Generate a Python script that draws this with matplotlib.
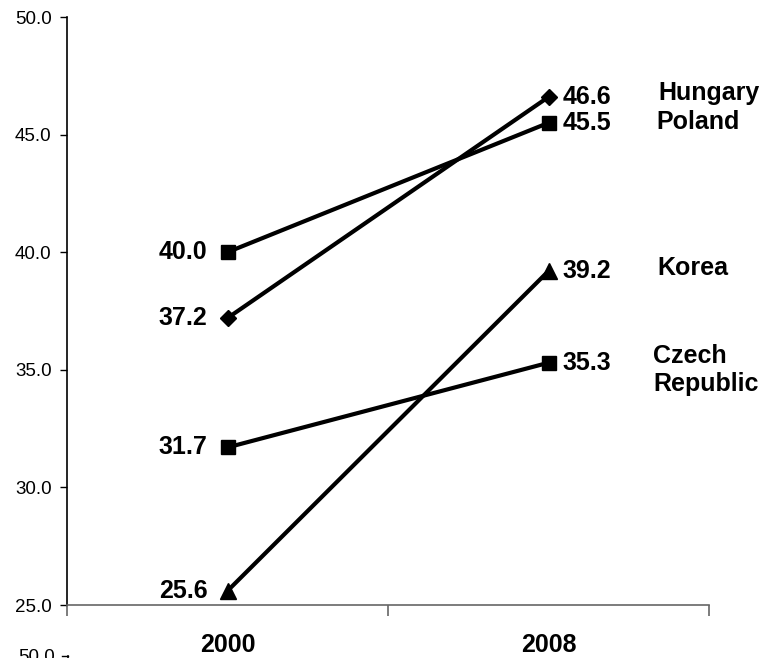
import matplotlib
matplotlib.use("Agg")
import matplotlib.pyplot as plt
from matplotlib.lines import Line2D

plt.rcParams["font.family"] = ["Liberation Sans", "DejaVu Sans"]

years = ["2000", "2008"]
hungary = [37.2, 46.6]
poland = [40.0, 45.5]
korea = [25.6, 39.2]
czech = [31.7, 35.3]

y_ticks = [25.0, 30.0, 35.0, 40.0, 45.0, 50.0]

# (values, marker, marker size)
series = [
    (hungary, "D", 8),
    (poland, "s", 10),
    (korea, "^", 11),
    (czech, "s", 10),
]

# country names to the right of the 2008 points
names = [
    ("Hungary", 1.341, 46.77),
    ("Poland", 1.335, 45.54),
    ("Korea", 1.338, 39.33),
    ("Czech\nRepublic", 1.326, 35.0),
]

W, H = 769, 658
fig = plt.figure(figsize=(W / 100, H / 100), dpi=100)
ax = fig.add_axes([67 / W, (H - 605) / H, (709 - 67) / W, (605 - 17) / H])

x = list(range(len(years)))
for vals, mk, ms in series:
    ax.plot(x, vals, color="black", lw=3.0, marker=mk, ms=ms,
            solid_capstyle="butt", zorder=3)
    ax.annotate(f"{vals[0]:.1f}", (x[0], vals[0]), xytext=(-20, 0),
                textcoords="offset pixels", ha="right", va="center",
                fontsize=18, fontweight="bold")
    ax.annotate(f"{vals[1]:.1f}", (x[1], vals[1]), xytext=(14, 0),
                textcoords="offset pixels", ha="left", va="center",
                fontsize=18, fontweight="bold")

for label, nx, ny in names:
    ax.text(nx, ny, label, ha="left", va="center", fontsize=18,
            fontweight="bold", linespacing=1.2, clip_on=False)

ax.set_xlim(-0.5, 1.5)
ax.set_ylim(25, 50)
ax.set_yticks(y_ticks)
ax.set_yticklabels([f"{v:.1f}" for v in y_ticks], fontsize=13.5)

# category boundaries carry the tick marks, labels sit between them
ax.set_xticks([-0.5, 0.5, 1.5])
ax.set_xticklabels([])
ax.set_xticks(x, minor=True)
ax.set_xticklabels(years, minor=True, fontsize=18, fontweight="bold")
ax.tick_params(axis="x", which="major", direction="out", length=8,
               width=1.2, color="#666666")
ax.tick_params(axis="x", which="minor", length=0, pad=20)
ax.tick_params(axis="y", direction="out", length=5, width=1, pad=6)

for side in ("top", "right"):
    ax.spines[side].set_visible(False)
ax.spines["left"].set_linewidth(1.2)
ax.spines["bottom"].set_color("#666666")
ax.spines["bottom"].set_linewidth(1.2)

# top of the next panel peeking in at the bottom edge
fig.text(55 / W, (H - 657) / H, "50.0", ha="right", va="center", fontsize=13.5)
fig.add_artist(Line2D([62 / W, 68 / W], [(H - 656) / H] * 2,
                      color="black", lw=1, transform=fig.transFigure))
fig.add_artist(Line2D([68 / W, 68 / W], [(H - 656) / H, 0],
                      color="black", lw=1.2, transform=fig.transFigure))

fig.savefig("out.png", dpi=100)
